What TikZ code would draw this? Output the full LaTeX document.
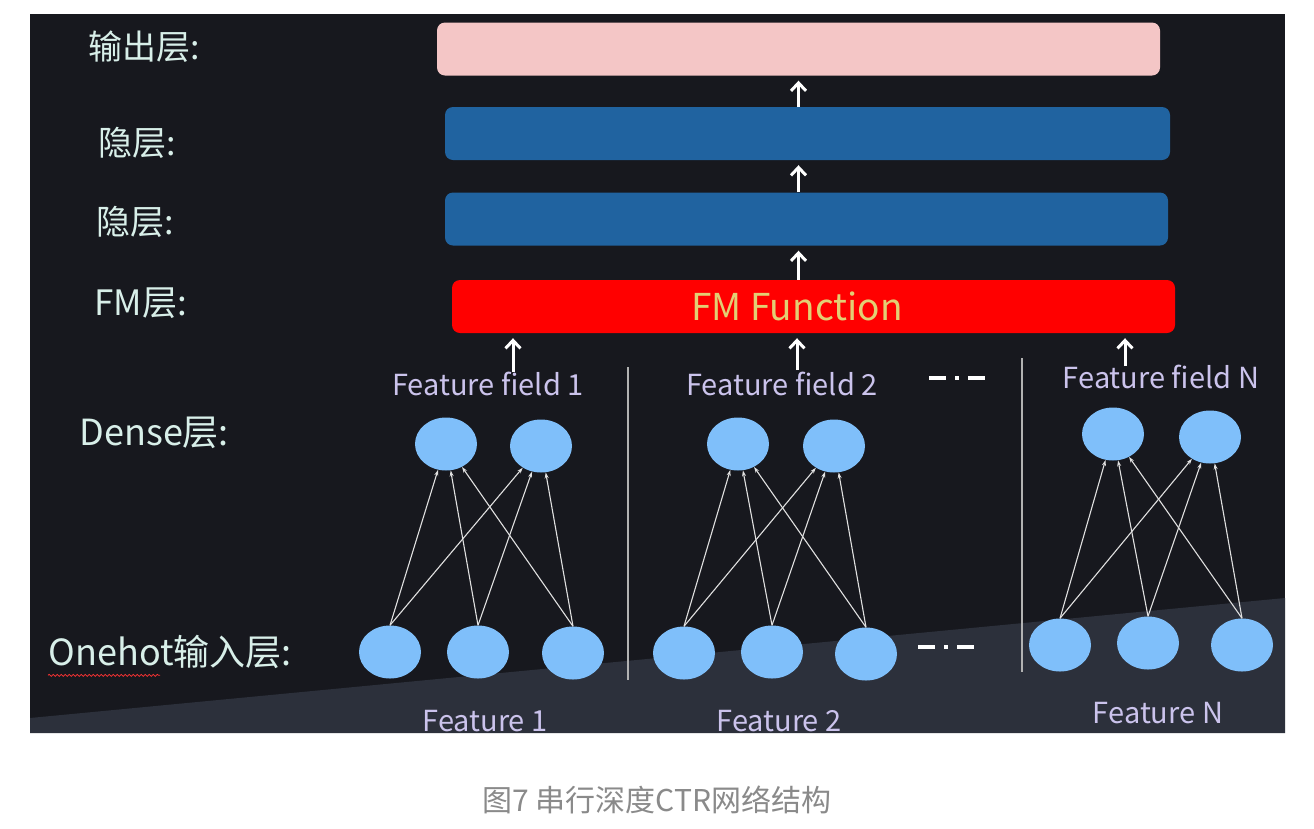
\documentclass[tikz,border=0pt]{standalone}
\usepackage{fontspec}
\setmainfont{Noto Sans CJK SC}
\usepackage{tikz}
\usetikzlibrary{arrows.meta,shapes.geometric,decorations.pathmorphing}
\definecolor{bgdark}{HTML}{17181E}
\definecolor{bgband}{HTML}{2C303B}
\definecolor{pinkbox}{HTML}{F4C6C6}
\definecolor{bluebox}{HTML}{2063A0}
\definecolor{fmtext}{HTML}{E3CF74}
\definecolor{unit}{HTML}{7FBFFA}
\definecolor{lefttext}{HTML}{D8EFE9}
\definecolor{fieldtext}{HTML}{CBC3EC}
\definecolor{captext}{HTML}{8A8A8A}
\newcommand{\dashdot}{\rule[7pt]{17pt}{4pt}\hspace{9pt}\rule[7pt]{4pt}{4pt}\hspace{9pt}\rule[7pt]{17pt}{4pt}}

\begin{document}
\begin{tikzpicture}[x=1pt, y=-1pt,
		layer/.style={rectangle, rounded corners=8pt, inner sep=0pt, minimum height=53pt},
		unitnode/.style={ellipse, fill=unit, inner sep=0pt, minimum width=62pt, minimum height=53pt},
		side/.style={anchor=west, text=lefttext, font=\fontsize{34}{40}\selectfont},
		field/.style={text=fieldtext, font=\fontsize{29}{34}\selectfont},
		dots/.style={text=white, inner sep=0pt},
		flow/.style={draw=white, line width=3pt, shorten >=5pt, -{Straight Barb[length=8pt,width=15pt]}},
		conn/.style={draw=black!12, line width=1.1pt, -{Stealth[length=6pt,width=4pt]}},
		sep/.style={draw=black!30, line width=1.5pt}]
		\useasboundingbox (0,0) rectangle (1314,828);
		\fill[white] (0,0) rectangle (1314,828);
		\fill[bgdark] (30,14) rectangle (1285,733);
		\fill[bgband] (30,718) -- (1285,598) -- (1285,733) -- (30,733) -- cycle;
		
		% layers
		\node[layer, fill=pinkbox, minimum width=723pt] (out) at (798.5,49) {};
		\node[layer, fill=bluebox, minimum width=725pt] (h1) at (807.5,133.5) {};
		\node[layer, fill=bluebox, minimum width=723pt] (h2) at (806.5,219) {};
		\node[layer, fill=red, minimum width=723pt] (fm) at (813.5,306.5) {};
		\node[text=fmtext, font=\fontsize{37}{42}\selectfont] (fmlbl) at (797,306) {FM Function};
		
		% left labels
		\node[side] (l1) at (85,47) {输出层:};
		\node[side] (l2) at (95,143) {隐层:};
		\node[side] (l3) at (93,222) {隐层:};
		\node[side, font=\fontsize{35}{40}\selectfont] (l4) at (91,303) {FM层:};
		\node[side, font=\fontsize{36}{40}\selectfont] (l5) at (76,433) {Dense层:};
		\node[side, font=\fontsize{36}{40}\selectfont] (l6) at (45,652) {Onehot输入层:};
		\draw[red!80, line width=0.8pt, decorate, decoration={snake, amplitude=1pt, segment length=4pt}]
			([xshift=3pt,yshift=-3pt]l6.south west) -- ++(112,0);
		
		% field labels
		\node[field] (f1) at (488,384) {Feature field 1};
		\node[field] (f2) at (782,384) {Feature field 2};
		\node[field] (f3) at (1161,377) {Feature field N};
		\node[dots] (dt1) at (957,381) {\dashdot};
		\node[dots] (dt2) at (946,650) {\dashdot};
		\node[field] (g1) at (485,721) {Feature 1};
		\node[field] (g2) at (779,721) {Feature 2};
		\node[field] (g3) at (1158,713) {Feature N};
		
		% dense units
		\node[unitnode] (d1) at (446,444) {};
		\node[unitnode] (d2) at (541,446) {};
		\node[unitnode] (d3) at (738,444) {};
		\node[unitnode] (d4) at (834,446) {};
		\node[unitnode] (d5) at (1113,434) {};
		\node[unitnode] (d6) at (1210,437) {};
		
		% onehot units
		\node[unitnode] (o1) at (390,652) {};
		\node[unitnode] (o2) at (478,652) {};
		\node[unitnode] (o3) at (573,653) {};
		\node[unitnode] (o4) at (684,653) {};
		\node[unitnode] (o5) at (772,652) {};
		\node[unitnode] (o6) at (866,654) {};
		\node[unitnode] (o7) at (1060,645) {};
		\node[unitnode] (o8) at (1148,643) {};
		\node[unitnode] (o9) at (1242,645) {};
		
		% separators
		\draw[sep] (628,367) -- (628,680);
		\draw[sep] (1022,358) -- (1022,672);
		
		% arrows between layers
		\path (h1.north -| out.south) edge[flow] (out.south);
		\path (h2.north -| out.south) edge[flow] (h1.south -| out.south);
		\path (fm.north -| out.south) edge[flow] (h2.south -| out.south);
		\coordinate (a1) at (513,372);
		\coordinate (a2) at (797,370);
		\coordinate (a3) at (1125,366);
		\path (a1) edge[flow] (a1 |- fm.south);
		\path (a2) edge[flow] (a2 |- fm.south);
		\path (a3) edge[flow] (a3 |- fm.south);
		
		\path (o1.north) edge[conn] (d1);
		\path (o1.north) edge[conn] (d2);
		\path (o2.north) edge[conn] (d1);
		\path (o2.north) edge[conn] (d2);
		\path (o3.north) edge[conn] (d1);
		\path (o3.north) edge[conn] (d2);
		\path (o4.north) edge[conn] (d3);
		\path (o4.north) edge[conn] (d4);
		\path (o5.north) edge[conn] (d3);
		\path (o5.north) edge[conn] (d4);
		\path (o6.north) edge[conn] (d3);
		\path (o6.north) edge[conn] (d4);
		\path (o7.north) edge[conn] (d5);
		\path (o7.north) edge[conn] (d6);
		\path (o8.north) edge[conn] (d5);
		\path (o8.north) edge[conn] (d6);
		\path (o9.north) edge[conn] (d5);
		\path (o9.north) edge[conn] (d6);
		
		\node[text=captext, font=\fontsize{30}{34}\selectfont] (cap) at (657,800) {图7 串行深度CTR网络结构};
		
	\end{tikzpicture}
\end{document}
